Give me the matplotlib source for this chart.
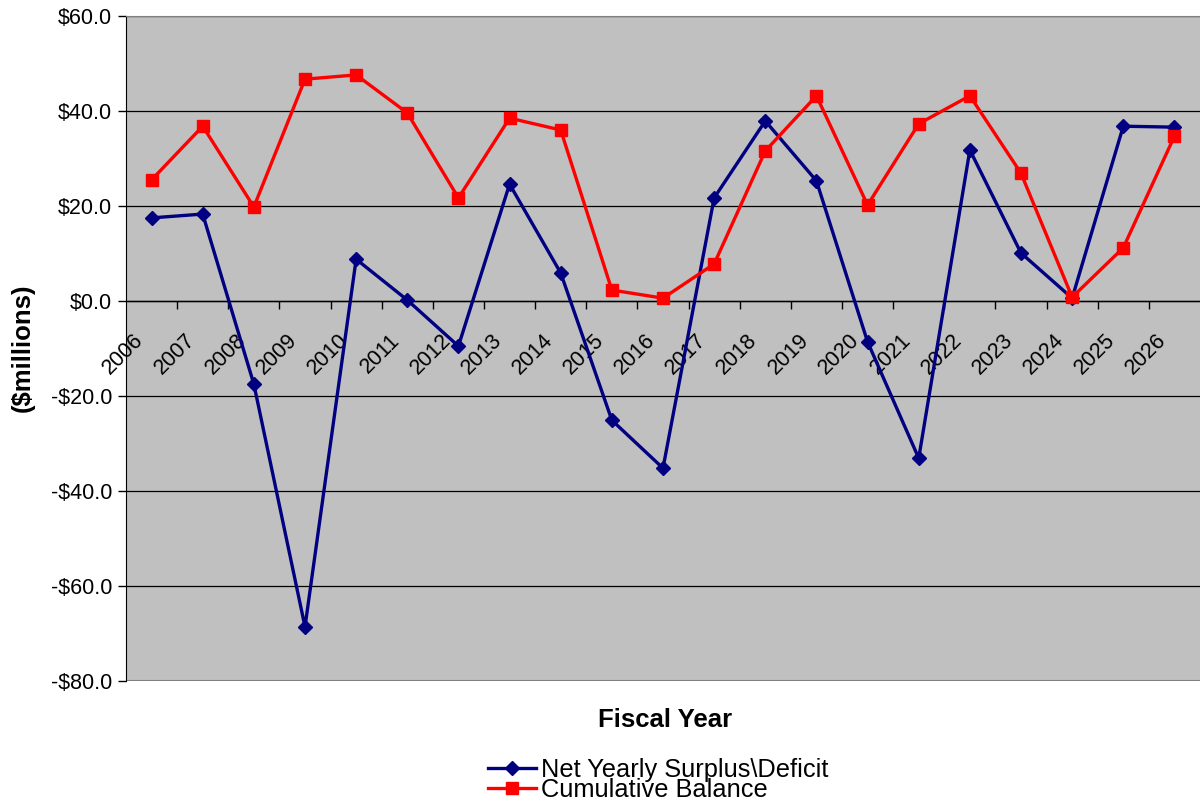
import numpy as np
import matplotlib.pyplot as plt
from matplotlib.ticker import FuncFormatter, FixedLocator
from matplotlib.transforms import ScaledTranslation

years = [str(y) for y in range(2006, 2027)]

# net yearly surplus / deficit, $ millions
net_yearly = [17.5, 18.3, -17.5, -68.6, 8.8, 0.2, -9.5, 24.6, 5.9, -25.1, -35.2,
              21.7, 37.9, 25.3, -8.6, -33.1, 31.8, 10.1, 0.6, 36.8, 36.6]

# cumulative balance, $ millions
cumulative = [25.5, 36.8, 19.8, 46.7, 47.6, 39.6, 21.7, 38.5, 36.0, 2.3, 0.6,
              7.8, 31.6, 43.2, 20.2, 37.3, 43.2, 26.9, 0.8, 11.2, 34.7]

plt.rcParams['font.family'] = ['Liberation Sans', 'DejaVu Sans']

fig = plt.figure(figsize=(12, 8.08), dpi=100)
ax = fig.add_axes([126/1200, 1 - 681/808, 1 - 126/1200, 665/808])
ax.set_facecolor('#c0c0c0')

x = np.arange(len(years))
ax.plot(x, net_yearly, color='#000080', lw=2.4, marker='D', ms=7.5,
        label='Net Yearly Surplus\\Deficit', zorder=3)
ax.plot(x, cumulative, color='#ff0000', lw=2.4, marker='s', ms=9,
        label='Cumulative Balance', zorder=3)

ax.set_xlim(-0.5, len(years) - 0.5)
ax.set_ylim(-80, 60)
ax.set_yticks(np.arange(-80, 61, 20))
ax.yaxis.set_major_formatter(FuncFormatter(
    lambda v, p: ('-$%.1f' % abs(v)) if v < 0 else ('$%.1f' % v)))
ax.yaxis.grid(True, color='black', lw=0.9)
ax.set_axisbelow(True)
ax.tick_params(axis='y', length=6, width=1, labelsize=15.5, pad=4)

# category axis sits on the zero line
ax.spines['bottom'].set_position(('data', 0))
ax.spines['bottom'].set_color('black')
ax.spines['bottom'].set_linewidth(1)
ax.spines['top'].set_color('#808080')
ax.spines['right'].set_visible(False)
ax.axhline(-80, color='#808080', lw=1.5, zorder=2)

# tick marks between categories, year labels on the categories
ax.xaxis.set_major_locator(FixedLocator(np.arange(0.5, len(years) - 0.5, 1)))
ax.xaxis.set_minor_locator(FixedLocator(x))
ax.set_xticklabels([], minor=False)
ax.set_xticklabels(years, minor=True)
ax.tick_params(axis='x', which='major', length=6, width=1, direction='out')
ax.tick_params(axis='x', which='minor', length=0, labelsize=15.5, pad=26)
for lab in ax.get_xticklabels(minor=True):
    lab.set_rotation(45)
    lab.set_ha('right')
    lab.set_va('center')
    lab.set_rotation_mode('anchor')
    lab.set_transform(lab.get_transform() + ScaledTranslation(-0.11, 0, fig.dpi_scale_trans))

fig.text(23/1200, 1 - 348/808, '($millions)', fontsize=18.5, fontweight='bold',
         rotation=90, ha='center', va='center')
fig.text(665/1200, 1 - 720/808, 'Fiscal Year', fontsize=18.5, fontweight='bold',
         ha='center', va='center')

fig.legend(loc='center', bbox_to_anchor=(658/1200, 1 - 780/808), frameon=False,
           fontsize=18.3, labelspacing=-0.17, handlelength=1.9, handletextpad=0.2,
           borderpad=0)

fig.savefig('out.png', dpi=100)
